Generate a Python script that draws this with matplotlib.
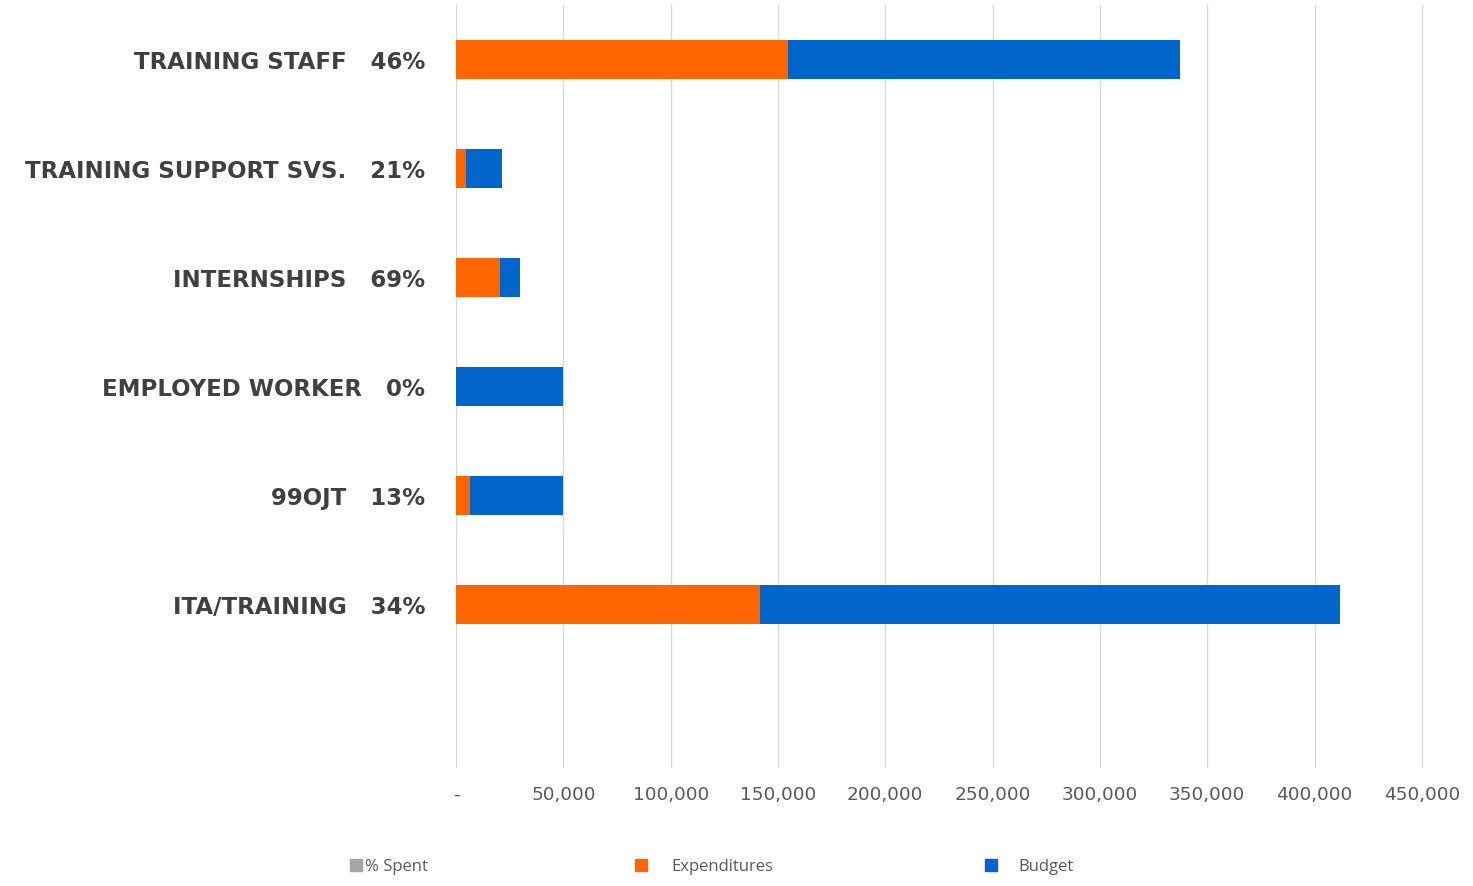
import matplotlib
matplotlib.use("Agg")
import matplotlib.pyplot as plt
from matplotlib.patches import Patch
from matplotlib.ticker import FixedLocator

categories = ["TRAINING STAFF", "TRAINING SUPPORT SVS.", "INTERNSHIPS",
              "EMPLOYED WORKER", "99OJT", "ITA/TRAINING", ""]
pct_spent = ["46%", "21%", "69%", "0%", "13%", "34%", ""]
budget = [337500, 21500, 30000, 50000, 50000, 412000, 0]
expenditures = [154700, 4500, 20700, 0, 6500, 141700, 0]
xticks = [0, 50000, 100000, 150000, 200000, 250000, 300000, 350000, 400000, 450000]
xticklabels = ["-", "50,000", "100,000", "150,000", "200,000", "250,000",
               "300,000", "350,000", "400,000", "450,000"]

orange = "#FF6600"
blue = "#0066CC"
gray = "#A5A5A5"

fig = plt.figure(figsize=(14.73, 8.86), dpi=100)
ax = fig.add_axes([456/1473, 1-768/886, (1424-456)/1473, (768-5)/886])

y = list(range(len(categories)))
h = 0.35
ax.barh(y, budget, height=h, color=blue, zorder=2)
ax.barh(y, expenditures, height=h, color=orange, zorder=3)

ax.set_ylim(len(categories) - 0.5, -0.5)
ax.set_xlim(0, 451000)
ax.xaxis.set_major_locator(FixedLocator(xticks))
ax.set_xticklabels(xticklabels, fontsize=13.3, color="#595959", family="DejaVu Sans")
ax.set_yticks(y)
labels = [f"{c}   {p}" if c else "" for c, p in zip(categories, pct_spent)]
ax.set_yticklabels(labels, fontsize=16.5, fontweight="bold", color="#404040", family="DejaVu Sans")
ax.tick_params(axis="y", length=0, pad=22)
ax.tick_params(axis="x", length=0, pad=13)
for s in ax.spines.values():
    s.set_visible(False)
ax.grid(axis="x", color="#D9D9D9", linewidth=1, zorder=0)
ax.set_axisbelow(True)

legend_items = [("% Spent", gray, 350/1473, 0.2),
                ("Expenditures", orange, 635/1473, 1.5),
                ("Budget", blue, 985/1473, 1.3)]
for name, col, xpos, pad in legend_items:
    fig.legend([Patch(color=col)], [name], loc="center left",
               bbox_to_anchor=(xpos, 1-867/886), frameon=False,
               labelcolor="#595959", handlelength=0.7, handleheight=0.7,
               handletextpad=pad, borderaxespad=0, borderpad=0,
               prop={"family": "Open Sans", "size": 12})

fig.savefig("out.png", dpi=100)
